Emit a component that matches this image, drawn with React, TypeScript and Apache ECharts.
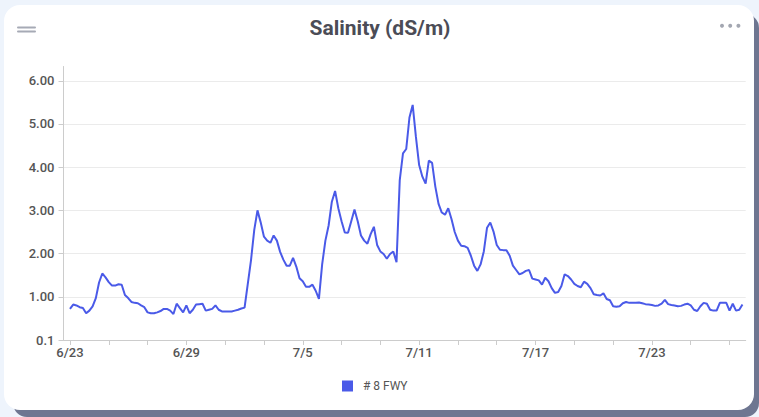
import React, { useEffect, useRef } from "react";
import * as echarts from "echarts";

// 4-hour readings starting 6/23 00:00 (two empty leading slots from 6/22 16:00)
const seriesName = "# 8 FWY";
const titleText = "Salinity (dS/m)";
const leadingEmpty = 2;
const totalSlots = 212;
const stepHours = 4;

const salinity: number[] = [
  0.72, 0.82, 0.8, 0.76, 0.74, 0.62, 0.68, 0.78, 0.97, 1.33,
  1.54, 1.45, 1.34, 1.26, 1.26, 1.29, 1.28, 1.04, 0.97, 0.88,
  0.86, 0.85, 0.8, 0.76, 0.64, 0.62, 0.62, 0.64, 0.67, 0.72,
  0.72, 0.68, 0.6, 0.84, 0.74, 0.64, 0.8, 0.62, 0.7, 0.82,
  0.83, 0.84, 0.68, 0.7, 0.72, 0.8, 0.7, 0.66, 0.66, 0.66,
  0.66, 0.68, 0.7, 0.73, 0.75, 1.3, 1.85, 2.55, 3.0, 2.72,
  2.39, 2.3, 2.25, 2.42, 2.3, 2.04, 1.86, 1.72, 1.72, 1.9,
  1.7, 1.43, 1.36, 1.23, 1.23, 1.28, 1.14, 0.95, 1.75, 2.3,
  2.65, 3.2, 3.45, 3.05, 2.75, 2.49, 2.48, 2.75, 3.02, 2.75,
  2.42, 2.3, 2.23, 2.45, 2.62, 2.2, 2.05, 1.99, 1.88, 1.99,
  2.05, 1.8, 3.7, 4.32, 4.42, 5.15, 5.44, 4.7, 4.05, 3.78,
  3.62, 4.15, 4.1, 3.55, 3.15, 2.95, 2.9, 3.05, 2.8, 2.5,
  2.3, 2.18, 2.17, 2.13, 1.95, 1.72, 1.6, 1.75, 2.05, 2.6,
  2.72, 2.51, 2.2, 2.09, 2.08, 2.08, 1.95, 1.72, 1.62, 1.52,
  1.55, 1.6, 1.62, 1.42, 1.4, 1.38, 1.28, 1.44, 1.36, 1.2,
  1.09, 1.11, 1.25, 1.52, 1.48, 1.4, 1.3, 1.25, 1.22, 1.35,
  1.3, 1.2, 1.06, 1.04, 1.03, 1.08, 0.95, 0.92, 0.78, 0.77,
  0.78, 0.85, 0.88, 0.86, 0.86, 0.86, 0.87, 0.85, 0.83, 0.82,
  0.81, 0.79, 0.8, 0.84, 0.93, 0.83, 0.81, 0.8, 0.78, 0.79,
  0.82, 0.84, 0.8, 0.7, 0.67, 0.78, 0.86, 0.84, 0.7, 0.68,
  0.68, 0.86, 0.86, 0.86, 0.68, 0.84, 0.68, 0.7, 0.82,
];

function buildCategories(): string[] {
  const start = Date.UTC(2024, 5, 22, 16, 0, 0);
  const out: string[] = [];
  for (let i = 0; i < totalSlots; i++) {
    const d = new Date(start + i * stepHours * 3600 * 1000);
    const hh = String(d.getUTCHours()).padStart(2, "0");
    out.push(`${d.getUTCMonth() + 1}/${d.getUTCDate()} ${hh}:00`);
  }
  return out;
}

export default function App() {
  const ref = useRef<HTMLDivElement>(null);

  useEffect(() => {
    document.body.style.margin = "0";
    if (!ref.current) return;
    const chart = echarts.init(ref.current, null, { renderer: "svg" });
    const categories = buildCategories();
    const data: (number | null)[] = [];
    for (let i = 0; i < leadingEmpty; i++) data.push(null);
    salinity.forEach((v) => data.push(v));

    chart.setOption({
      animation: false,
      textStyle: { fontFamily: "Roboto, 'Noto Sans', sans-serif" },
      grid: { left: 63.5, right: 13.3, top: 66.5, bottom: 77, containLabel: false },
      legend: {
        show: true,
        left: 342,
        top: 380,
        padding: 0,
        icon: "rect",
        itemWidth: 11,
        itemHeight: 11,
        itemGap: 10,
        textStyle: { color: "#555", fontSize: 12, padding: [0, 0, 0, 5] },
        data: [seriesName],
      },
      xAxis: {
        type: "category",
        data: categories,
        boundaryGap: false,
        axisLine: { show: true, lineStyle: { color: "#ccc", width: 1 } },
        axisTick: {
          show: true,
          length: 5,
          lineStyle: { color: "#ccc" },
          interval: (i: number) => i >= leadingEmpty && (i - leadingEmpty) % 12 === 0,
        },
        axisLabel: {
          color: "#555",
          fontSize: 13,
          fontWeight: 500,
          margin: 6,
          interval: (i: number) => i >= leadingEmpty && (i - leadingEmpty) % 36 === 0,
          formatter: (v: string) => v.split(" ")[0],
        },
        splitLine: { show: false },
      },
      yAxis: {
        type: "value",
        min: 0,
        max: 6.33,
        interval: 1,
        axisLine: { show: true, lineStyle: { color: "#ccc", width: 1 } },
        axisTick: { show: true, length: 5, lineStyle: { color: "#ccc" } },
        axisLabel: {
          color: "#555",
          fontSize: 13,
          fontWeight: 500,
          margin: 9,
          showMaxLabel: false,
          formatter: (v: number) => {
            if (Math.abs(v - Math.round(v)) > 1e-6) return "";
            return v === 0 ? "0.1" : v.toFixed(2);
          },
        },
        splitLine: { show: true, showMaxLine: false, lineStyle: { color: "#ebebeb", width: 1 } },
      },
      series: [
        {
          name: seriesName,
          type: "line",
          data,
          showSymbol: false,
          symbol: "none",
          connectNulls: false,
          lineStyle: { color: "#4a5ae8", width: 2 },
          itemStyle: { color: "#4a5ae8" },
        },
      ],
      graphic: [
        {
          type: "text",
          x: 380,
          y: 28,
          style: {
            text: titleText,
            fill: "#4b4c56",
            font: "bold 21px Roboto, 'Noto Sans', sans-serif",
            textAlign: "center",
            textVerticalAlign: "middle",
          },
        },
        { type: "rect", shape: { x: 17, y: 26.5, width: 19, height: 2, r: 1 }, style: { fill: "#a6aab5" } },
        { type: "rect", shape: { x: 17, y: 30.5, width: 19, height: 2, r: 1 }, style: { fill: "#a6aab5" } },
        { type: "circle", shape: { cx: 722, cy: 25.7, r: 2 }, style: { fill: "#a3a7b1" } },
        { type: "circle", shape: { cx: 730.2, cy: 25.7, r: 2 }, style: { fill: "#a3a7b1" } },
        { type: "circle", shape: { cx: 738.4, cy: 25.7, r: 2 }, style: { fill: "#a3a7b1" } },
      ],
    });
    return () => chart.dispose();
  }, []);

  return (
    <div style={{ position: "relative", width: 759, height: 417, background: "#eef4fc", overflow: "hidden" }}>
      <div style={{ position: "absolute", left: 13, top: 14, width: 746, height: 403, background: "#6e7691", borderRadius: 14 }} />
      <div style={{ position: "absolute", left: 4, top: 5, width: 750, height: 405, background: "#ffffff", borderRadius: 16 }} />
      <div ref={ref} style={{ position: "absolute", left: 0, top: 0, width: 759, height: 417 }} />
    </div>
  );
}
